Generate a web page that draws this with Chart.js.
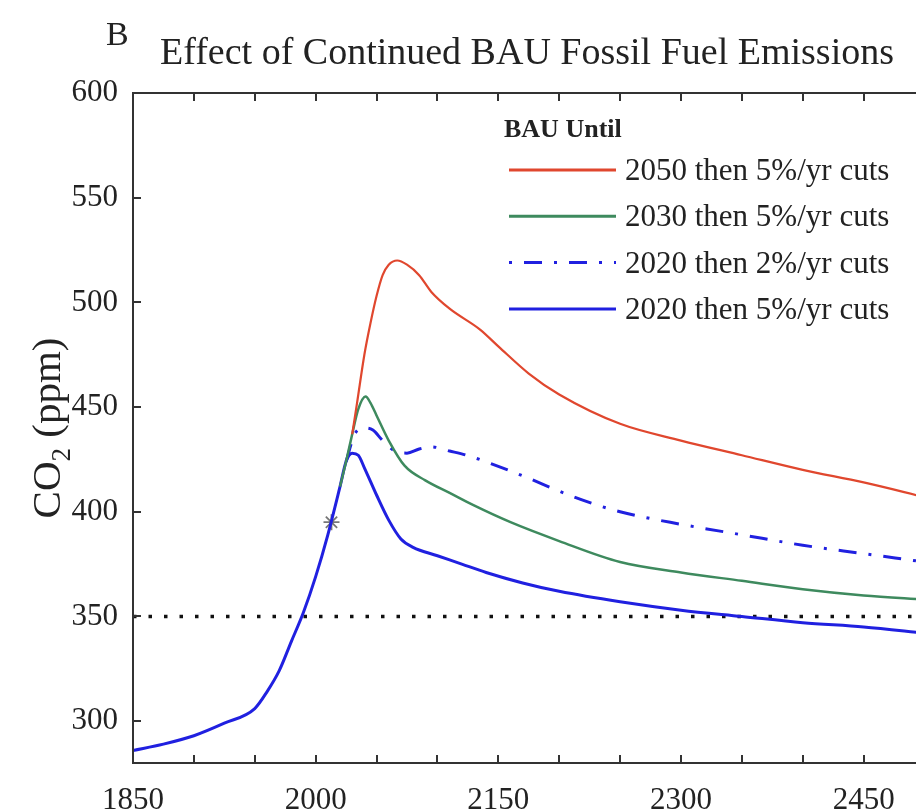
<!DOCTYPE html>
<html>
<head>
<meta charset="utf-8">
<script src="https://cdn.jsdelivr.net/npm/chart.js@4/dist/chart.umd.min.js"></script>
<style>
  html, body { margin: 0; padding: 0; background: #fff; overflow: hidden; }
  #co2 { display: block; }
</style>
</head>
<body>
<canvas id="co2" width="916" height="811"></canvas>
<script>
// common history (blue) up to the branching point
const histYears = [1850, 1875, 1900, 1925, 1950, 1960, 1970, 1980, 1990, 2000, 2010, 2020];
const histCO2 = [286, 289, 293, 299, 306, 314, 324, 338, 352, 369, 389, 412];

// BAU until 2020 then 5%/yr cuts (solid blue)
const cut2020s5Years = [2025, 2030, 2035, 2040, 2050, 2060, 2070, 2080, 2100, 2120, 2140, 2170, 2200, 2250, 2300, 2350, 2400, 2450, 2500];
const cut2020s5CO2 = [424, 428, 427, 421, 408, 396, 387, 383, 379, 375, 371, 366, 362, 357, 353, 350, 347, 345, 342];

// BAU until 2020 then 2%/yr cuts (dash-dot blue)
const cut2020s2Years = [2025, 2032, 2040, 2047, 2055, 2065, 2075, 2085, 2095, 2110, 2124, 2162, 2217, 2250, 2300, 2350, 2400, 2450, 2500];
const cut2020s2CO2 = [424, 437, 440, 439, 434, 429, 428, 430, 431, 429, 427, 419, 406, 400, 394, 389, 384, 380, 376];

// BAU until 2030 then 5%/yr cuts (green)
const cut2030Years = [2020, 2025, 2030, 2035, 2041, 2045, 2050, 2060, 2073, 2090, 2110, 2130, 2160, 2200, 2250, 2300, 2350, 2400, 2450, 2500];
const cut2030CO2 = [412, 424, 437, 449, 455, 452, 446, 434, 422, 415, 409, 403, 395, 386, 376, 371, 367, 363, 360, 358];

// BAU until 2050 then 5%/yr cuts (red)
const cut2050Years = [2030, 2034, 2040, 2045, 2050, 2055, 2060, 2067, 2075, 2085, 2095, 2110, 2135, 2150, 2175, 2200, 2250, 2300, 2350, 2400, 2450, 2500];
const cut2050CO2 = [437, 452, 475, 490, 503, 513, 518, 520, 518, 513, 505, 497, 487, 479, 466, 456, 442, 434, 427, 420, 414, 407];

// 350 ppm target line and present-day observation
const targetYears = [1850, 2500];
const targetCO2 = [350, 350];
const obsYears = [2013];
const obsCO2 = [395];

const xTickYears = [1850, 1900, 1950, 2000, 2050, 2100, 2150, 2200, 2250, 2300, 2350, 2400, 2450];
const xLabelYears = [1850, 2000, 2150, 2300, 2450];
const yTickValues = [300, 350, 400, 450, 500, 550, 600];

const legendHeader = "BAU Until";
const legendLabels = ["2050 then 5%/yr cuts", "2030 then 5%/yr cuts", "2020 then 2%/yr cuts", "2020 then 5%/yr cuts"];

const RED = "#e0472e", GREEN = "#3e8a5e", BLUE = "#2020e0";
const SERIF = "'Liberation Serif', 'DejaVu Serif', serif";

const pts = (xs, ys) => xs.map((x, i) => ({ x: x, y: ys[i] }));

// plot area is cropped on the right: push it to the canvas edge
const fillRight = {
  id: "fillRight",
  afterLayout(chart) {
    const a = chart.chartArea;
    const x = chart.scales.x;
    if (a.right < chart.width) {
      a.right = chart.width;
      a.width = a.right - a.left;
      x.right = chart.width;
      x.width = x.right - x.left;
      x.configure();
    }
  }
};

// frame, inward ticks, titles and legend
const decorations = {
  id: "decorations",
  afterDraw(chart) {
    const { ctx, chartArea: a, scales: { x, y } } = chart;
    ctx.save();
    ctx.strokeStyle = "#333";
    ctx.lineWidth = 2;
    ctx.beginPath();
    ctx.moveTo(a.right + 2, a.top);
    ctx.lineTo(a.left, a.top);
    ctx.lineTo(a.left, a.bottom);
    ctx.lineTo(a.right + 2, a.bottom);
    ctx.stroke();

    ctx.beginPath();
    xTickYears.forEach(v => {
      const px = Math.round(x.getPixelForValue(v));
      ctx.moveTo(px, a.bottom); ctx.lineTo(px, a.bottom - 8);
      ctx.moveTo(px, a.top); ctx.lineTo(px, a.top + 8);
    });
    yTickValues.forEach(v => {
      const py = Math.round(y.getPixelForValue(v));
      ctx.moveTo(a.left, py); ctx.lineTo(a.left + 8, py);
    });
    ctx.stroke();

    ctx.fillStyle = "#222";
    ctx.textBaseline = "alphabetic";
    ctx.textAlign = "left";
    ctx.font = "34px " + SERIF;
    ctx.fillText("B", 106, 45);
    ctx.font = "38px " + SERIF;
    ctx.textAlign = "center";
    ctx.fillText("Effect of Continued BAU Fossil Fuel Emissions", 527, 64);

    // y axis title with subscript
    ctx.save();
    ctx.translate(60, 428);
    ctx.rotate(-Math.PI / 2);
    ctx.textAlign = "left";
    ctx.font = "41px " + SERIF;
    const w1 = ctx.measureText("CO").width;
    ctx.font = "27px " + SERIF;
    const w2 = ctx.measureText("2").width;
    ctx.font = "41px " + SERIF;
    const w3 = ctx.measureText(" (ppm)").width;
    const tx = -(w1 + w2 + w3) / 2;
    ctx.fillText("CO", tx, 0);
    ctx.font = "27px " + SERIF;
    ctx.fillText("2", tx + w1, 10);
    ctx.font = "41px " + SERIF;
    ctx.fillText(" (ppm)", tx + w1 + w2, 0);
    ctx.restore();

    // legend
    const colors = [RED, GREEN, BLUE, BLUE];
    const dashes = [[], [], [3, 12, 18, 12], []];
    ctx.textAlign = "left";
    ctx.font = "bold 26px " + SERIF;
    ctx.fillText(legendHeader, 504, 137);
    ctx.font = "31px " + SERIF;
    legendLabels.forEach((t, i) => {
      const ly = 170 + i * 46.3;
      ctx.save();
      ctx.strokeStyle = colors[i];
      ctx.lineWidth = 3;
      ctx.setLineDash(dashes[i]);
      ctx.beginPath();
      ctx.moveTo(509, ly); ctx.lineTo(616, ly);
      ctx.stroke();
      ctx.restore();
      ctx.fillStyle = "#222";
      ctx.fillText(t, 625, ly + 10);
    });
    ctx.restore();
  }
};

new Chart(document.getElementById("co2"), {
  type: "line",
  data: {
    datasets: [
      {
        label: legendLabels[0],
        data: pts(cut2050Years, cut2050CO2),
        borderColor: RED, borderWidth: 2.2,
      },
      {
        label: legendLabels[1],
        data: pts(cut2030Years, cut2030CO2),
        borderColor: GREEN, borderWidth: 2.5,
      },
      {
        label: legendLabels[2],
        data: pts(cut2020s2Years, cut2020s2CO2),
        borderColor: BLUE, borderWidth: 3,
        borderDash: [18, 12, 3, 12],
      },
      {
        label: legendLabels[3],
        data: pts(histYears.concat(cut2020s5Years), histCO2.concat(cut2020s5CO2)),
        borderColor: BLUE, borderWidth: 3,
      },
      {
        label: "350 ppm",
        data: pts(targetYears, targetCO2),
        borderColor: "#111", borderWidth: 3.5,
        borderDash: [3.5, 12],
        cubicInterpolationMode: "default", tension: 0,
      },
      {
        label: "observed",
        data: pts(obsYears, obsCO2),
        showLine: false,
        pointStyle: "star", pointRadius: 8,
        pointBorderColor: "#777", pointBorderWidth: 1.8,
      },
    ],
  },
  options: {
    responsive: false,
    animation: false,
    layout: { padding: { top: 93, right: 0, left: 0, bottom: 0 } },
    elements: {
      point: { radius: 0 },
      line: { cubicInterpolationMode: "monotone", fill: false },
    },
    plugins: { legend: { display: false }, tooltip: { enabled: false }, title: { display: false } },
    scales: {
      x: {
        type: "linear", min: 1850, max: 2493,
        grid: { display: false }, border: { display: false },
        afterBuildTicks: s => { s.ticks = xTickYears.map(v => ({ value: v })); },
        afterFit: s => { s.height = 48; s.paddingLeft = 0; s.paddingRight = 0; },
        ticks: {
          autoSkip: false, maxRotation: 0, padding: 11,
          color: "#222", font: { family: SERIF, size: 31 },
          callback: v => (xLabelYears.includes(v) ? String(v) : ""),
        },
      },
      y: {
        min: 280, max: 600,
        grid: { display: false }, border: { display: false },
        afterBuildTicks: s => { s.ticks = yTickValues.map(v => ({ value: v })); },
        afterFit: s => { s.width = 133; s.paddingTop = 0; s.paddingBottom = 0; },
        ticks: {
          padding: 7,
          color: "#222", font: { family: SERIF, size: 31 },
        },
      },
    },
  },
  plugins: [fillRight, decorations],
});
</script>
</body>
</html>
